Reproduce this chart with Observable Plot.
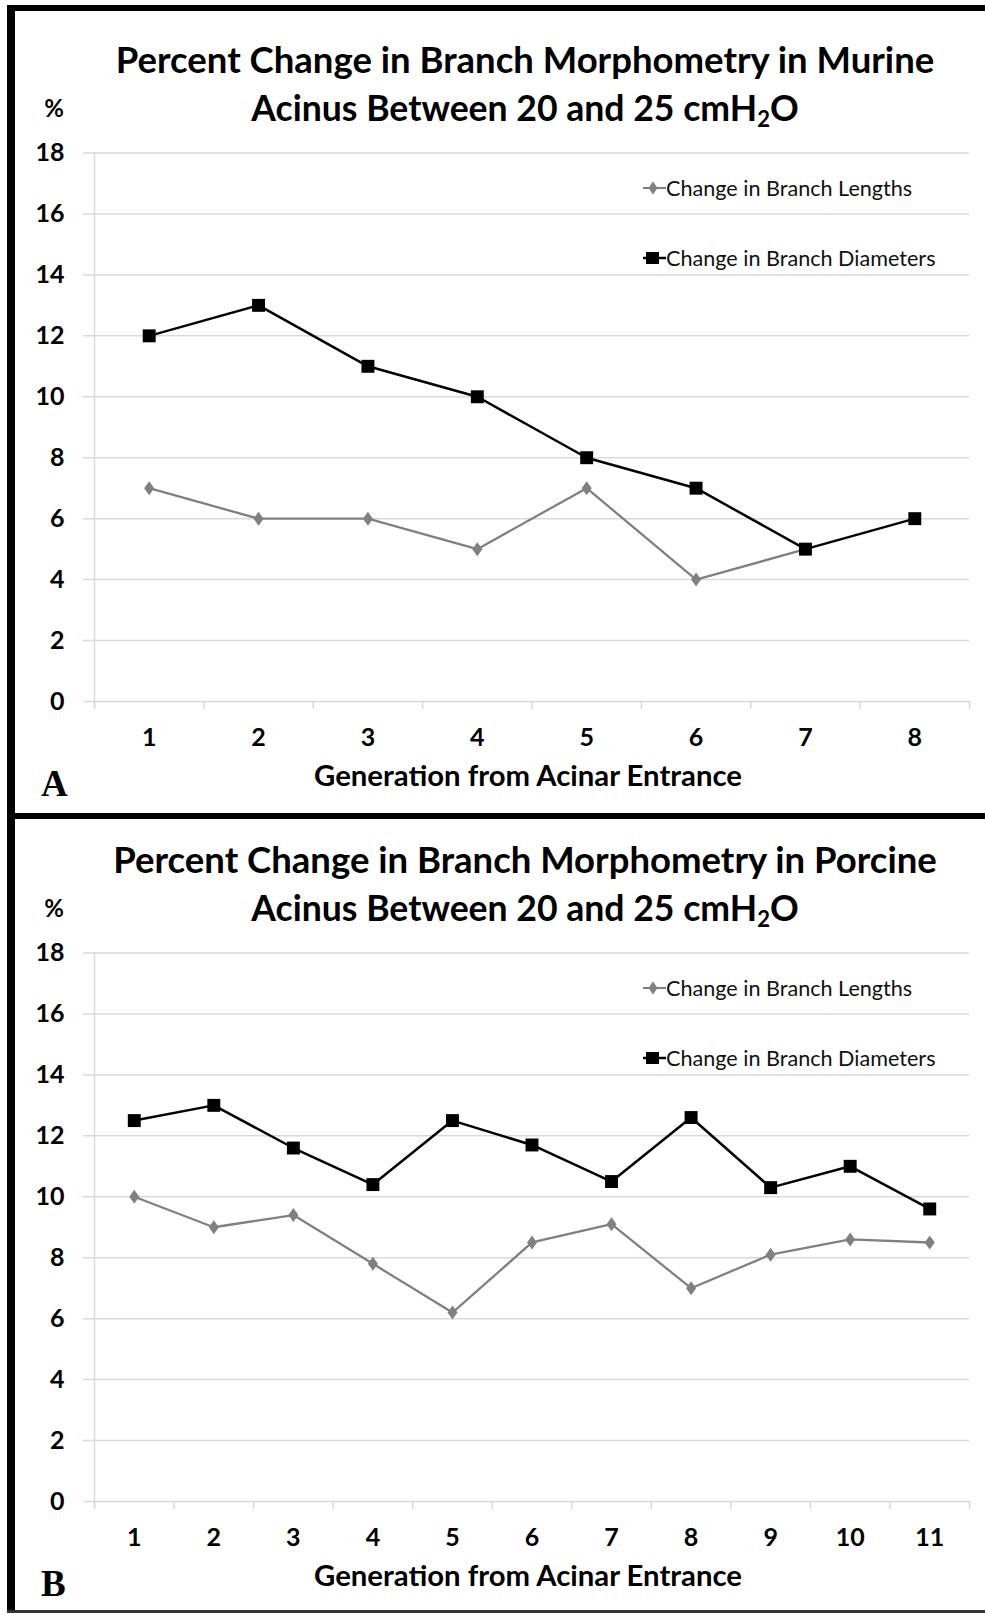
<!DOCTYPE html>
<html>
<head>
<meta charset="utf-8">
<script src="https://cdn.jsdelivr.net/npm/d3@7"></script>
<script src="https://cdn.jsdelivr.net/npm/@observablehq/plot@0.6"></script>
<style>
  html, body { margin: 0; padding: 0; background: #fff; }
  #root { position: relative; width: 985px; height: 1615px; overflow: hidden; background: #fff; font-family: Lato, "Open Sans", sans-serif; }
  .bar { position: absolute; background: #000; }
  .title { position: absolute; left: 0; width: 1050px; text-align: center; font-weight: bold; font-size: 36.5px; line-height: 48px; color: #000; white-space: nowrap; }
  .title .l2 { font-size: 35.6px; }
  .title sub { font-size: 0.62em; vertical-align: -0.25em; line-height: 0; }
  .pct { position: absolute; font-weight: bold; font-size: 24px; color: #000; transform: translate(-50%, -50%); }
  .letter { position: absolute; font-family: "Liberation Serif", "DejaVu Serif", serif; font-weight: bold; font-size: 37px; color: #000; line-height: 1; }
  .legend { position: absolute; left: 643px; font-size: 21.6px; color: #111; white-space: nowrap; display: flex; align-items: center; height: 24px; }
  .legend svg { display: block; }
  .plotwrap { position: absolute; left: 0; }
</style>
</head>
<body>
<div id="root"></div>
<script>
// ---- data ----
const generationsA = [1, 2, 3, 4, 5, 6, 7, 8];
const lengthsA = [7, 6, 6, 5, 7, 4, 5];
const diametersA = [12, 13, 11, 10, 8, 7, 5, 6];

const generationsB = [1, 2, 3, 4, 5, 6, 7, 8, 9, 10, 11];
const lengthsB = [10, 9, 9.4, 7.8, 6.2, 8.5, 9.1, 7, 8.1, 8.6, 8.5];
const diametersB = [12.5, 13, 11.6, 10.4, 12.5, 11.7, 10.5, 12.6, 10.3, 11, 9.6];

const yTicks = [0, 2, 4, 6, 8, 10, 12, 14, 16, 18];
const titlesLine1 = ["Percent Change in Branch Morphometry in Murine", "Percent Change in Branch Morphometry in Porcine"];
const seriesNames = ["Change in Branch Lengths", "Change in Branch Diameters"];
const xLabel = "Generation from Acinar Entrance";
const panelLetters = ["A", "B"];

const GRAY = "#808080";
const GRID = "#d9d9d9";

// wider diamond symbol (Excel-like)
const wideDiamond = {
  draw(ctx, size) {
    const r = Math.sqrt(size / Math.PI);
    ctx.moveTo(0, -r);
    ctx.lineTo(0.72 * r, 0);
    ctx.lineTo(0, r);
    ctx.lineTo(-0.72 * r, 0);
    ctx.closePath();
  }
};

const root = document.getElementById("root");

function el(tag, cls, style, html) {
  const e = document.createElement(tag);
  if (cls) e.className = cls;
  Object.assign(e.style, style || {});
  if (html != null) e.innerHTML = html;
  root.appendChild(e);
  return e;
}

// frame bars
el("div", "bar", {left: "7px", top: "5px", width: "978px", height: "6px"});
el("div", "bar", {left: "7px", top: "5px", width: "8px", height: "1608px"});
el("div", "bar", {left: "7px", top: "813px", width: "978px", height: "6px"});
el("div", "bar", {left: "7px", top: "1610px", width: "978px", height: "3px", background: "#333"});

function legendRow(top, kind, label) {
  const row = el("div", "legend", {top: (top - 12) + "px"});
  const marker = kind === "diamond"
    ? `<svg width="23" height="20"><line x1="0" y1="10" x2="23" y2="10" stroke="${GRAY}" stroke-width="2"/><path d="M10,3.5 L14.5,10 L10,16.5 L5.5,10 Z" fill="${GRAY}"/></svg>`
    : `<svg width="23" height="20"><line x1="0" y1="10" x2="23" y2="10" stroke="#000" stroke-width="2.5"/><rect x="3" y="4" width="13" height="12" fill="#000"/></svg>`;
  row.innerHTML = marker + `<span>${label}</span>`;
}

function panel(idx, gens, lengths, diameters) {
  const oy = idx * 800;
  const n = gens.length;
  const bounds = d3.range(0, n + 1).map(i => i + 0.5);
  const L = lengths.map((v, i) => ({gen: gens[i], value: v}));
  const D = diameters.map((v, i) => ({gen: gens[i], value: v}));

  el("div", "title", {top: (35 + oy) + "px"},
     titlesLine1[idx] + "<br><span class='l2'>Acinus Between 20 and 25 cmH<sub>2</sub>O</span>");
  el("div", "pct", {left: "54px", top: (107 + oy) + "px"}, "%");
  el("div", "letter", {left: "41px", top: (765 + oy) + "px"}, panelLetters[idx]);

  const chart = Plot.plot({
    width: 985,
    height: 680,
    marginLeft: 94,
    marginRight: 16,
    marginTop: 32.5,
    marginBottom: 99,
    x: {domain: [0.5, n + 0.5], axis: null},
    y: {domain: [0, 18], axis: null},
    style: {fontFamily: "Lato, 'Open Sans', sans-serif", background: "transparent", color: "#000", overflow: "visible"},
    marks: [
      Plot.ruleY(yTicks, {stroke: GRID, strokeWidth: 1.5, insetLeft: -11}),
      Plot.ruleX([0.5], {stroke: GRID, strokeWidth: 1.5, insetBottom: -8}),
      Plot.axisX({ticks: bounds, tickSize: 8, tickFormat: () => "", label: null, stroke: GRID, strokeWidth: 1.5}),
      Plot.text(yTicks, {y: d => d, text: d => String(d), frameAnchor: "left", textAnchor: "end", lineAnchor: "middle", dx: -30, fontWeight: "bold", fontSize: 25, fill: "#000"}),
      Plot.text(gens, {x: d => d, text: d => String(d), frameAnchor: "bottom", lineAnchor: "middle", dy: 36, fontWeight: "bold", fontSize: 25, fill: "#000"}),
      Plot.text([xLabel], {x: (n + 1) / 2, text: d => d, frameAnchor: "bottom", lineAnchor: "middle", dy: 75, dx: -4, fontWeight: "bold", fontSize: 29.3, fill: "#000"}),
      Plot.line(L, {x: "gen", y: "value", stroke: GRAY, strokeWidth: 2.3}),
      Plot.dot(L, {x: "gen", y: "value", symbol: wideDiamond, r: 7, fill: GRAY, stroke: "none"}),
      Plot.line(D, {x: "gen", y: "value", stroke: "#000", strokeWidth: 2.5}),
      Plot.dot(D, {x: "gen", y: "value", symbol: "square", r: 7.3, fill: "#000", stroke: "none"})
    ]
  });
  const wrap = el("div", "plotwrap", {top: (120 + oy) + "px"});
  wrap.appendChild(chart);

  legendRow(188 + oy, "diamond", seriesNames[0]);
  legendRow(258 + oy, "square", seriesNames[1]);
}

panel(0, generationsA, lengthsA, diametersA);
panel(1, generationsB, lengthsB, diametersB);
</script>
</body>
</html>
